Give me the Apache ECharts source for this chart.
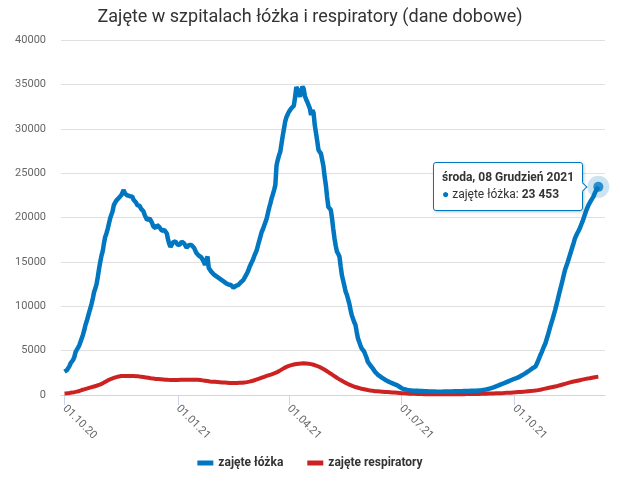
<!DOCTYPE html>
<html>
<head>
<meta charset="utf-8">
<script src="https://cdn.jsdelivr.net/npm/echarts@6/dist/echarts.min.js"></script>
<style>
  body { margin: 0; background: #fff; }
  #main { width: 620px; height: 484px; }
</style>
</head>
<body>
<div id="main"></div>
<script>
// dane dobowe od 01.10.2020 do 08.12.2021
const startDate = '2020-10-01';
const seriesNames = ['zajęte łóżka', 'zajęte respiratory'];
const tickDates = ['2020-10-01', '2021-01-01', '2021-04-01', '2021-07-01', '2021-10-01'];

const beds = [
  2630, 2700, 2800, 2950, 3250, 3600, 3700, 3950, 4300, 4850,
  5100, 5300, 5600, 6000, 6400, 6800, 7300, 7900, 8300, 8800,
  9300, 9800, 10300, 10900, 11600, 12000, 12500, 13300, 14200, 15000,
  15700, 16200, 17100, 17800, 18200, 18700, 19300, 19900, 20300, 20700,
  21400, 21600, 21900, 22000, 22200, 22100, 22500, 22800, 23100, 22700,
  22600, 22500, 22700, 22400, 22300, 22350, 22000, 21800, 21700, 21400,
  21200, 21300, 21000, 21000, 20700, 20300, 20100, 19700, 19500, 19900,
  19800, 19400, 19000, 18800, 18800, 19150, 19100, 18900, 18700, 18500,
  18500, 18600, 18600, 18200, 17500, 17000, 16700, 16900, 17200, 17400,
  17300, 17100, 16900, 16700, 17000, 17300, 17300, 17100, 16900, 16600,
  16700, 16900, 17000, 16900, 16900, 16600, 16300, 16000, 15800, 15700,
  15600, 15500, 15400, 15000, 14650, 15200, 15600, 14300, 14100, 13900,
  13750, 13600, 13500, 13400, 13300, 13200, 13100, 13000, 12950, 12800,
  12700, 12600, 12500, 12450, 12400, 12400, 12250, 12100, 12200, 12300,
  12350, 12400, 12550, 12700, 12800, 12950, 13200, 13450, 13700, 14000,
  14400, 14700, 15000, 15300, 15700, 16000, 16350, 16900, 17400, 17900,
  18400, 18700, 19100, 19500, 19900, 20500, 21100, 21600, 22150, 22600,
  23100, 23650, 25900, 26500, 27000, 27400, 28300, 29200, 30000, 30800,
  31300, 31600, 31900, 32100, 32300, 32300, 32600, 33500, 34700, 34900,
  34100, 33600, 34300, 34750, 34500, 33700, 33300, 33000, 32850, 32300,
  31550, 32100, 31800, 30400, 29500, 28600, 27600, 27400, 27200, 27050,
  25800, 24600, 23650, 22300, 21200, 21000, 20850, 19900, 18700, 17650,
  16800, 16150, 15900, 15600, 14500, 13500, 12900, 12300, 11650, 11300,
  11100, 10300, 9600, 9000, 8600, 8200, 7900, 7100, 6400, 6000,
  5600, 5250, 5050, 4900, 4700, 4200, 3750, 3550, 3350, 3200,
  3000, 2800, 2600, 2450, 2300, 2200, 2100, 2000, 1900, 1800,
  1720, 1640, 1560, 1500, 1430, 1370, 1310, 1250, 1190, 1130,
  1080, 1000, 900, 800, 720, 660, 640, 610, 580, 560,
  540, 520, 510, 500, 490, 480, 480, 470, 460, 450,
  440, 430, 420, 420, 410, 410, 400, 400, 390, 390,
  390, 380, 380, 380, 380, 380, 380, 380, 390, 390,
  390, 390, 400, 400, 400, 410, 410, 410, 420, 420,
  420, 430, 430, 430, 440, 440, 450, 450, 460, 460,
  470, 470, 475, 480, 480, 500, 510, 520, 540, 560,
  580, 600, 620, 650, 700, 750, 780, 820, 870, 920,
  970, 1020, 1080, 1140, 1200, 1250, 1300, 1360, 1420, 1480,
  1540, 1600, 1660, 1720, 1780, 1840, 1870, 1900, 1980, 2060,
  2140, 2220, 2300, 2380, 2460, 2550, 2650, 2750, 2850, 2950,
  3050, 3120, 3200, 3500, 3800, 4150, 4500, 4800, 5150, 5500,
  5800, 6250, 6700, 7200, 7700, 8150, 8600, 9100, 9600, 10150,
  10700, 11300, 11850, 12400, 12950, 13550, 14100, 14500, 14900, 15350,
  15800, 16250, 16700, 17150, 17650, 17950, 18250, 18500, 18800, 19150,
  19500, 19900, 20300, 20700, 21050, 21400, 21650, 21900, 22100, 22350,
  22700, 23000, 23200, 23453
];

const respirators = [
  180, 190, 200, 215, 230, 250, 270, 295, 320, 350,
  380, 410, 450, 500, 560, 600, 640, 680, 720, 760,
  800, 840, 880, 920, 960, 1000, 1040, 1090, 1130, 1190,
  1250, 1320, 1400, 1480, 1560, 1640, 1710, 1780, 1830, 1880,
  1930, 1980, 2020, 2060, 2090, 2110, 2130, 2140, 2150, 2150,
  2150, 2150, 2150, 2140, 2140, 2140, 2130, 2130, 2120, 2110,
  2100, 2080, 2060, 2040, 2020, 2000, 1980, 1960, 1940, 1910,
  1890, 1870, 1850, 1830, 1810, 1800, 1790, 1780, 1770, 1760,
  1750, 1740, 1730, 1720, 1710, 1700, 1700, 1700, 1700, 1700,
  1700, 1700, 1700, 1700, 1710, 1710, 1720, 1720, 1720, 1720,
  1720, 1720, 1720, 1720, 1720, 1720, 1720, 1720, 1720, 1710,
  1690, 1670, 1650, 1630, 1610, 1590, 1570, 1550, 1530, 1510,
  1500, 1490, 1480, 1470, 1460, 1450, 1440, 1430, 1420, 1410,
  1400, 1390, 1380, 1370, 1360, 1360, 1350, 1350, 1350, 1350,
  1350, 1360, 1370, 1380, 1390, 1400, 1420, 1430, 1450, 1480,
  1510, 1540, 1580, 1620, 1660, 1700, 1750, 1800, 1850, 1900,
  1950, 2000, 2050, 2100, 2150, 2200, 2240, 2280, 2330, 2380,
  2430, 2480, 2540, 2610, 2690, 2770, 2860, 2950, 3030, 3100,
  3170, 3230, 3280, 3320, 3360, 3400, 3430, 3460, 3490, 3510,
  3530, 3550, 3560, 3570, 3570, 3570, 3560, 3550, 3530, 3510,
  3480, 3450, 3410, 3370, 3320, 3270, 3210, 3150, 3080, 3010,
  2930, 2850, 2760, 2670, 2580, 2490, 2400, 2300, 2210, 2120,
  2030, 1940, 1850, 1760, 1680, 1600, 1520, 1440, 1370, 1300,
  1230, 1170, 1110, 1050, 1000, 950, 900, 860, 820, 780,
  740, 710, 680, 650, 620, 590, 560, 530, 510, 490,
  470, 450, 430, 420, 410, 400, 390, 380, 370, 360,
  350, 340, 330, 320, 310, 300, 290, 280, 270, 260,
  250, 240, 230, 220, 210, 200, 190, 180, 170, 160,
  150, 145, 140, 135, 130, 125, 120, 115, 110, 105,
  100, 100, 95, 95, 90, 90, 90, 85, 85, 85,
  85, 80, 80, 80, 80, 80, 80, 80, 80, 80,
  80, 80, 80, 80, 80, 85, 85, 85, 85, 90,
  90, 90, 95, 95, 95, 100, 100, 100, 105, 105,
  110, 110, 115, 115, 120, 120, 125, 130, 130, 135,
  140, 145, 150, 155, 160, 165, 170, 175, 180, 185,
  190, 195, 200, 205, 210, 215, 220, 230, 240, 250,
  255, 260, 265, 275, 285, 295, 305, 315, 325, 335,
  345, 355, 365, 375, 385, 400, 415, 430, 445, 460,
  475, 490, 510, 530, 550, 570, 600, 630, 660, 690,
  720, 750, 780, 810, 840, 870, 900, 930, 960, 990,
  1020, 1060, 1100, 1140, 1180, 1220, 1260, 1300, 1340, 1380,
  1420, 1460, 1490, 1520, 1550, 1580, 1610, 1640, 1670, 1700,
  1730, 1760, 1790, 1820, 1850, 1870, 1890, 1920, 1950, 1980,
  2000, 2020, 2040, 2060
];

const dayNames = ['niedziela', 'poniedziałek', 'wtorek', 'środa', 'czwartek', 'piątek', 'sobota'];
const monthNames = ['Styczeń', 'Luty', 'Marzec', 'Kwiecień', 'Maj', 'Czerwiec', 'Lipiec',
  'Sierpień', 'Wrzesień', 'Październik', 'Listopad', 'Grudzień'];

const BLUE = '#0077c0';
const RED = '#cc2222';
const DAY = 86400000;

function parseDay(s) {
  const p = s.split('-').map(Number);
  return Date.UTC(p[0], p[1] - 1, p[2]);
}
const start = parseDay(startDate);
// x = numer dnia od startDate
const dateOf = i => new Date(start + Math.round(i) * DAY);
const dayIndex = s => Math.round((parseDay(s) - start) / DAY);
const pad = n => (n < 10 ? '0' : '') + n;
const tickIdx = tickDates.map(dayIndex);

const bedsData = beds.map((v, i) => [i, v]);
const respData = respirators.map((v, i) => [i, v]);
const last = bedsData[bedsData.length - 1];

const chart = echarts.init(document.getElementById('main'));
const option = {
  animation: false,
  backgroundColor: '#fff',
  textStyle: { fontFamily: 'Roboto, sans-serif' },
  title: {
    text: 'Zajęte w szpitalach łóżka i respiratory (dane dobowe)',
    left: 'center',
    top: 3,
    textStyle: { fontFamily: 'Roboto', fontSize: 18, fontWeight: 'normal', color: '#333' }
  },
  grid: { left: 61, right: 15, top: 40, bottom: 89 },
  legend: {
    data: seriesNames,
    bottom: 10,
    icon: 'rect',
    itemWidth: 16,
    itemHeight: 5,
    itemGap: 24,
    selectedMode: false,
    textStyle: { fontFamily: 'Roboto', fontSize: 12, fontWeight: 'bold', color: '#333' }
  },
  tooltip: {
    trigger: 'item',
    alwaysShowContent: true,
    position: 'left',
    transitionDuration: 0,
    backgroundColor: 'rgba(255,255,255,0.97)',
    borderColor: BLUE,
    borderWidth: 1,
    padding: [6, 8, 7, 8],
    textStyle: { fontFamily: 'Roboto', fontSize: 12, color: '#333' },
    extraCssText: 'box-shadow: 1px 1px 3px rgba(0,0,0,0.25); border-radius: 3px;',
    formatter: function (p) {
      const d = dateOf(p.value[0]);
      const head = dayNames[d.getUTCDay()] + ', ' + pad(d.getUTCDate()) + ' ' + monthNames[d.getUTCMonth()] + ' ' + d.getUTCFullYear();
      const val = String(p.value[1]).replace(/\B(?=(\d{3})+(?!\d))/g, ' ');
      return '<div style="font-weight:bold;line-height:17px">' + head + '</div>' +
        '<div style="line-height:17px"><span style="color:' + BLUE + '">●</span> ' + seriesNames[0] + ': <b>' + val + '</b></div>';
    }
  },
  xAxis: {
    type: 'value',
    min: -2.84,
    max: 438.4,
    axisLine: { show: true, onZero: false, lineStyle: { color: '#ccd6eb' } },
    axisTick: {
      show: true,
      length: 10,
      customValues: tickIdx,
      lineStyle: { color: '#ccd6eb' }
    },
    axisLabel: {
      customValues: tickIdx,
      rotate: -45,
      margin: 12,
      color: '#666',
      fontSize: 11,
      fontFamily: 'Roboto',
      formatter: function (v) {
        const d = dateOf(v);
        return pad(d.getUTCDate()) + '.' + pad(d.getUTCMonth() + 1) + '.' + String(d.getUTCFullYear()).slice(2);
      }
    },
    splitLine: { show: false }
  },
  yAxis: {
    type: 'value',
    min: 0,
    max: 40000,
    interval: 5000,
    axisLine: { show: false },
    axisTick: { show: false },
    axisLabel: {
      color: '#666', fontSize: 11, fontFamily: 'Roboto', margin: 15,
      formatter: v => String(v)
    },
    splitLine: { lineStyle: { color: '#e0e0e0' } }
  },
  series: [
    {
      name: seriesNames[0],
      type: 'line',
      data: bedsData,
      showSymbol: false,
      silent: true,
      lineStyle: { color: BLUE, width: 4.5 },
      itemStyle: { color: BLUE },
      z: 3
    },
    {
      name: seriesNames[1],
      type: 'line',
      data: respData,
      showSymbol: false,
      silent: true,
      lineStyle: { color: RED, width: 4 },
      itemStyle: { color: RED },
      z: 2
    },
    {
      name: 'hover',
      type: 'scatter',
      data: [last],
      symbolSize: 10,
      itemStyle: { color: BLUE },
      emphasis: { disabled: true },
      z: 6
    },
    {
      name: 'halo',
      type: 'scatter',
      data: [last],
      symbolSize: 22,
      silent: true,
      itemStyle: { color: 'rgba(0,119,192,0.25)' },
      tooltip: { show: false },
      z: 5
    }
  ]
};
chart.setOption(option);
chart.dispatchAction({ type: 'showTip', seriesIndex: 2, dataIndex: 0 });
</script>
</body>
</html>
